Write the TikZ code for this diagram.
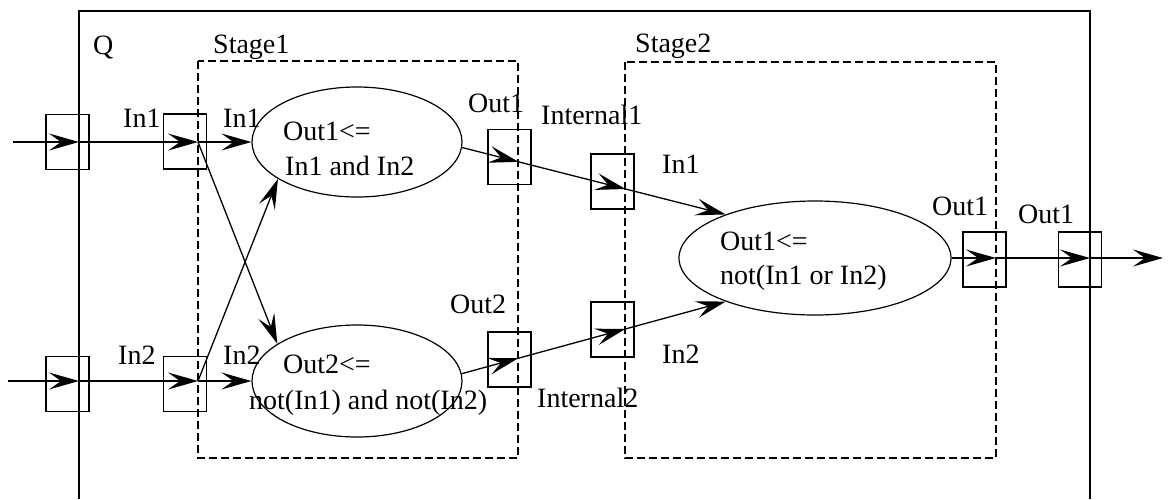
\documentclass[tikz,border=0pt]{standalone}
\usepackage{fontspec}
\setmainfont{Liberation Serif}
\usetikzlibrary{arrows.meta,shapes.geometric,calc}
\begin{document}
\begin{tikzpicture}[x=1pt,y=-1pt,
  wire/.style={line width=1.3pt},
  arr/.style={wire,-{Stealth[length=30pt,width=17pt,inset=12pt]}},
  port/.style={draw,line width=1.1pt,minimum width=43pt,minimum height=55pt,inner sep=0pt},
  proc/.style={draw,ellipse,line width=1.2pt,inner sep=0pt},
  stagebox/.style={draw,dash pattern=on 8pt off 4pt,line width=1.1pt},
  lbl/.style={font=\fontsize{28}{34}\selectfont,inner sep=0pt,anchor=base west}]
\useasboundingbox (0,0) rectangle (1168,499);

% outer entity Q and stages
\draw[line width=1.4pt] (79,499) -- (79,11) -- (1090,11) -- (1090,499);
\draw[stagebox] (198,61) rectangle (518,458);
\draw[stagebox] (625,62) rectangle (996,458);

% ports
\node[port] (pq1) at (67.5,142) {};
\node[port] (pq2) at (67.5,384) {};
\node[port] (ps1) at (185,141.5) {};
\node[port] (ps2) at (185,384) {};
\node[port] (po1) at (509.5,157) {};
\node[port] (po2) at (509.5,359.5) {};
\node[port] (pi1) at (612.5,181.5) {};
\node[port] (pi2) at (612.5,329.5) {};
\node[port] (pso) at (984.5,259.5) {};
\node[port] (pqo) at (1080,259.5) {};

% processes
\node[proc,minimum width=210pt,minimum height=110pt] (e1) at (357,142) {};
\node[proc,minimum width=210pt,minimum height=112pt] (e2) at (357,381) {};
\node[proc,minimum width=272pt,minimum height=114pt] (e3) at (815,258) {};

% connection points
\coordinate (src1) at (13,142);
\coordinate (qin1) at (79,142);
\coordinate (sin1) at (198,142);
\coordinate (src2) at (8,381);
\coordinate (qin2) at (79,381);
\coordinate (sin2) at (198,381);
\coordinate (so1) at ($(e1.-3)!0.2144!(e3.154)$);
\coordinate (ti1) at ($(e1.-3)!0.6205!(e3.154)$);
\coordinate (so2) at ($(e2.4)!0.214!(e3.206)$);
\coordinate (ti2) at ($(e2.4)!0.62!(e3.206)$);
\coordinate (sout) at (996,258);
\coordinate (qout) at (1090,258);
\coordinate (sink) at (1163,258);

% connectors
\draw[arr] (src1) -- (qin1);
\draw[arr] (qin1) -- (sin1);
\draw[arr] (sin1) -- (e1.west);
\draw[arr] (sin1) -- (e2.155);
\draw[arr] (src2) -- (qin2);
\draw[arr] (qin2) -- (sin2);
\draw[arr] (sin2) -- (e2.west);
\draw[arr] (sin2) -- (e1.205);
\draw[arr] (e1.-3) -- (so1);
\draw[arr] (so1) -- (ti1);
\draw[arr] (ti1) -- (e3.154);
\draw[arr] (e2.4) -- (so2);
\draw[arr] (so2) -- (ti2);
\draw[arr] (ti2) -- (e3.206);
\draw[arr] (e3.east) -- (sout);
\draw[arr] (sout) -- (qout);
\draw[arr] (qout) -- (sink);

% labels
\node[lbl] (lq) at (93,54) {Q};
\node[lbl] (lst1) at (213,53) {Stage1};
\node[lbl] (lst2) at (635,52) {Stage2};
\node[lbl] (lqi1) at (123,127) {In1};
\node[lbl] (lsi1) at (223,127) {In1};
\node[lbl] (lqi2) at (118,364) {In2};
\node[lbl] (lsi2) at (223,364) {In2};
\node[lbl] (lso1) at (468,112) {Out1};
\node[lbl] (lint1) at (541,124) {Internal1};
\node[lbl] (lso2) at (450,313) {Out2};
\node[lbl] (lint2) at (537,407) {Internal2};
\node[lbl] (l2i1) at (662,173) {In1};
\node[lbl] (l2i2) at (662,363) {In2};
\node[lbl] (l2o) at (932,215) {Out1};
\node[lbl] (lqo) at (1018,223) {Out1};

% process texts
\node[lbl] (t1a) at (283,140) {Out1<=};
\node[lbl] (t1b) at (285,175) {In1 and In2};
\node[lbl] (t2a) at (283,373) {Out2<=};
\node[lbl] (t2b) at (249,409) {not(In1) and not(In2)};
\node[lbl] (t3a) at (720,250) {Out1<=};
\node[lbl] (t3b) at (720,284) {not(In1 or In2)};
\end{tikzpicture}
\end{document}
